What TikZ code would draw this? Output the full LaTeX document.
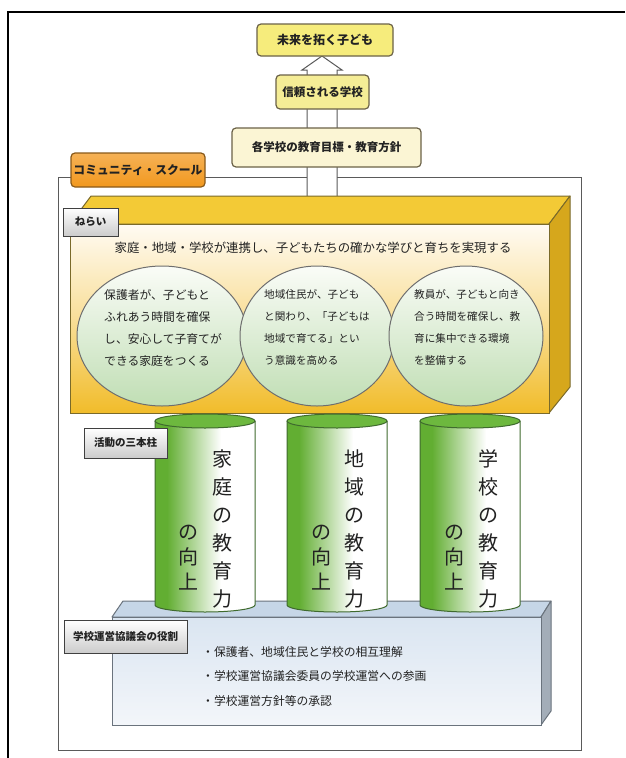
\documentclass[tikz,border=0pt]{standalone}
\usepackage{fontspec}
\setmainfont{Noto Sans CJK JP}
\usetikzlibrary{shapes.geometric}
\definecolor{txt}{HTML}{222222}
\definecolor{framegrey}{HTML}{5A5A5A}
\definecolor{boxborder}{HTML}{6B6248}
\definecolor{yel1}{HTML}{F6EC7C}
\definecolor{yel2}{HTML}{F5ED96}
\definecolor{cream}{HTML}{FBF5D4}
\definecolor{orangetab}{HTML}{F2981E}
\definecolor{orangeborder}{HTML}{8A5A1A}
\definecolor{goldtop}{HTML}{F3CA36}
\definecolor{goldside}{HTML}{D6A71C}
\definecolor{goldborder}{HTML}{7A6A2A}
\definecolor{frontlight}{HTML}{FFFBF3}
\definecolor{frontdark}{HTML}{F1BC2A}
\definecolor{circtop}{HTML}{FAFCF7}
\definecolor{circbot}{HTML}{C0DEB4}
\definecolor{circborder}{HTML}{6E6E6E}
\definecolor{pgreen}{HTML}{62AE32}
\definecolor{ptop}{HTML}{6DB83E}
\definecolor{pborder}{HTML}{3F6A2E}
\definecolor{bluetop}{HTML}{C6D6E7}
\definecolor{blueside}{HTML}{A3ADB8}
\definecolor{bluefront1}{HTML}{DAE5F1}
\definecolor{bluefront2}{HTML}{F3F6FA}
\definecolor{blueborder}{HTML}{6A737D}
\pgfdeclarehorizontalshading{pillarshade}{100bp}{color(0bp)=(pgreen); color(25bp)=(pgreen); color(31bp)=(pgreen); color(58bp)=(white); color(100bp)=(white)}
\tikzset{
  topbox/.style={draw=boxborder, line width=1.2pt, rounded corners=4pt, inner sep=0pt, font=\bfseries\fontsize{12}{14}\selectfont},
  greytab/.style={draw=black!75, line width=0.9pt, top color=white, bottom color=black!20, inner sep=0pt, font=\bfseries\fontsize{10.5}{12}\selectfont},
  circ/.style={ellipse, draw=circborder, line width=1pt, top color=circtop, bottom color=circbot, inner sep=0pt},
  circtext/.style={align=left, anchor=north west, inner sep=0pt, font=\fontsize{11.8}{22}\selectfont},
  pilltext/.style={align=center, inner sep=0pt, font=\fontsize{20}{28}\selectfont},
  pilltextb/.style={align=center, inner sep=0pt, font=\fontsize{20}{25}\selectfont},
}
\begin{document}
\begin{tikzpicture}[x=1pt,y=-1pt, every node/.append style={text=txt}]
\useasboundingbox (0,0) rectangle (625,758);
\fill[white] (0,0) rectangle (625,758);
% outer frame
\coordinate (oTR) at (625,12);
\coordinate (oTL) at (8,12);
\coordinate (oBL) at (8,758);
\draw[line width=1.3pt] (oTR) -- (oTL) -- (oBL);
% community school frame
\node[draw=framegrey, line width=1pt, minimum width=523pt, minimum height=573pt, inner sep=0pt] (cs) at (319.5,463.5) {};
\node[draw=orangeborder, line width=1.2pt, rounded corners=4pt, top color=orangetab!75, bottom color=orangetab, minimum width=134pt, minimum height=34pt, inner sep=0pt, font=\bfseries\fontsize{11.8}{14}\selectfont] (cstab) at (138,170) {コミュニティ・スクール};
% hollow upward arrow
\draw[framegrey, line width=1pt, fill=white] (307,200) -- (307,70) -- (302,70) -- (322,56) -- (342,70) -- (337,70) -- (337,200);
% top boxes
\node[topbox, fill=yel1, minimum width=136pt, minimum height=32pt] (future) at (325,40) {未来を拓く子ども};
\node[topbox, fill=yel2, minimum width=93pt, minimum height=34pt, font=\bfseries\fontsize{11.5}{14}\selectfont] (trust) at (322.5,92) {信頼される学校};
\node[topbox, fill=cream, minimum width=189pt, minimum height=39pt, font=\bfseries\fontsize{11.5}{14}\selectfont] (policy) at (326.5,147.5) {各学校の教育目標・教育方針};
% yellow 3D box
\fill[goldtop, draw=goldborder, line width=1pt, line join=round] (70,224) -- (549,224) -- (570,196) -- (91,196) -- cycle;
\fill[goldside, draw=goldborder, line width=1pt, line join=round] (549,224) -- (570,196) -- (570,387) -- (549,413) -- cycle;
\shade[top color=frontlight, bottom color=frontdark, middle color=frontdark!45!frontlight] (70,224) rectangle (549,413);
\draw[goldborder, line width=1pt] (70,224) rectangle (549,413);
\node[greytab, minimum width=55pt, minimum height=28pt] (aim) at (90.5,222) {ねらい};
\node[inner sep=0pt, font=\fontsize{12.4}{14}\selectfont] (aimtext) at (313,248) {家庭・地域・学校が連携し、子どもたちの確かな学びと育ちを実現する};
% circles
\node[circ, minimum width=170pt, minimum height=140pt] (c1) at (162,336) {};
\node[circ, minimum width=154pt, minimum height=140pt] (c2) at (317,336) {};
\node[circ, minimum width=154pt, minimum height=140pt] (c3) at (466,336) {};
\node[circtext] (t1) at (104,289) {保護者が、子どもと\\ふれあう時間を確保\\し、安心して子育てが\\できる家庭をつくる};
\node[circtext, font=\fontsize{10.6}{22}\selectfont] (t2) at (264,289) {地域住民が、子ども\\と関わり、「子どもは\\地域で育てる」とい\\う意識を高める};
\node[circtext, font=\fontsize{10.6}{22}\selectfont] (t3) at (414,289) {教員が、子どもと向き\\合う時間を確保し、教\\育に集中できる環境\\を整備する};
% blue base box
\fill[bluetop, draw=blueborder, line width=1pt, line join=round] (112,617) -- (541,617) -- (551,601) -- (123,601) -- cycle;
\fill[blueside, draw=blueborder, line width=1pt, line join=round] (541,617) -- (551,601) -- (551,711) -- (541,725) -- cycle;
\shade[top color=bluefront1, bottom color=bluefront2] (112,617) rectangle (541,725);
\draw[blueborder, line width=1pt] (112,617) rectangle (541,725);
% pillars
\foreach \cx in {205,337,470}{
  \shade[shading=pillarshade] (\cx-50,421) -- (\cx-50,605) arc[start angle=180,end angle=360,x radius=50pt,y radius=7pt] -- (\cx+50,421) -- cycle;
  \draw[pborder, line width=1pt] (\cx-50,421) -- (\cx-50,605) arc[start angle=180,end angle=360,x radius=50pt,y radius=7pt] -- (\cx+50,421);
  \draw[pborder, line width=1pt, fill=ptop] (\cx,421) ellipse[x radius=50pt, y radius=7pt];
}
\node[pilltext] (p1a) at (222,529) {家\\庭\\の\\教\\育\\力};
\node[pilltextb] (p1b) at (188,558) {の\\向\\上};
\node[pilltext] (p2a) at (354,529) {地\\域\\の\\教\\育\\力};
\node[pilltextb] (p2b) at (321,558) {の\\向\\上};
\node[pilltext] (p3a) at (488,529) {学\\校\\の\\教\\育\\力};
\node[pilltextb] (p3b) at (454,558) {の\\向\\上};
\node[greytab, minimum width=83pt, minimum height=30pt] (pillars) at (125.5,443) {活動の三本柱};
\node[greytab, minimum width=123pt, minimum height=33pt] (role) at (125.5,636.5) {学校運営協議会の役割};
\node[align=left, anchor=north west, inner sep=0pt, font=\fontsize{11.8}{24.5}\selectfont] (roletext) at (202,646) {・保護者、地域住民と学校の相互理解\\・学校運営協議会委員の学校運営への参画\\・学校運営方針等の承認};
\end{tikzpicture}
\end{document}
